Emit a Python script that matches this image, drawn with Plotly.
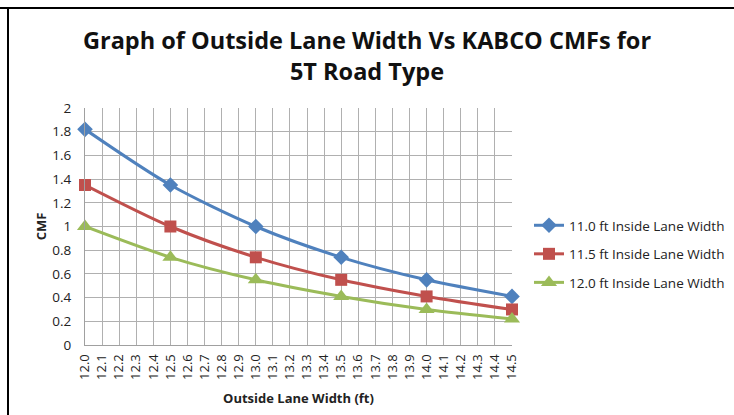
import plotly.graph_objects as go

x_vals = [12.0, 12.5, 13.0, 13.5, 14.0, 14.5]
cmf_110 = [1.82, 1.35, 1.00, 0.74, 0.55, 0.41]
cmf_115 = [1.35, 1.00, 0.74, 0.55, 0.41, 0.30]
cmf_120 = [1.00, 0.74, 0.55, 0.41, 0.30, 0.22]
series_names = ["11.0 ft Inside Lane Width", "11.5 ft Inside Lane Width", "12.0 ft Inside Lane Width"]
x_ticks = [round(12.0 + 0.1 * i, 1) for i in range(26)]
y_ticks = [0, 0.2, 0.4, 0.6, 0.8, 1, 1.2, 1.4, 1.6, 1.8, 2]

FONT = "Open Sans"
colors = ["#4F81BD", "#C0504D", "#9BBB59"]
symbols = ["diamond", "square", "triangle-up"]
sizes = [12, 12, 14]

fig = go.Figure()
for i, (ys, name) in enumerate(zip([cmf_110, cmf_115, cmf_120], series_names)):
    fig.add_trace(go.Scatter(
        x=x_vals, y=ys, name=name, mode="lines+markers",
        line=dict(color=colors[i], width=3, shape="spline", smoothing=0.8),
        marker=dict(symbol=symbols[i], size=sizes[i], color=colors[i]),
        cliponaxis=False, legendgroup=f"g{i}",
    ))

W, H = 734, 415
L, R, T, B = 85, 222, 108, 70
pw, ph = W - L - R, H - T - B

def px_x(p):
    return (p - L) / pw

def px_y(p):
    return (H - B - p) / ph

fig.update_layout(
    width=W, height=H,
    margin=dict(l=L, r=R, t=T, b=B, autoexpand=False),
    paper_bgcolor="white", plot_bgcolor="white",
    font=dict(family=FONT, color="#222"),
    title=dict(
        text="<b>Graph of Outside Lane Width Vs KABCO CMFs for<br>5T Road Type</b>",
        x=0.5, xanchor="center", y=1 - 49 / H, yanchor="middle",
        font=dict(size=23.5, family=FONT, color="#111"),
    ),
    xaxis=dict(
        range=[12.0, 14.5], tickmode="array", tickvals=x_ticks, tickformat=".1f",
        tickangle=-90, tickfont=dict(size=13), showgrid=True, gridcolor="#b0b0b0",
        gridwidth=1, showline=True, linecolor="#a0a0a0", zeroline=False,
        ticks="", ticklabelstandoff=3, automargin=False,
        title=dict(text="<b>Outside Lane Width (ft)</b>", font=dict(size=13), standoff=14),
    ),
    yaxis=dict(
        range=[0, 2], tickmode="array", tickvals=y_ticks, tickfont=dict(size=13.5),
        showgrid=True, gridcolor="#b0b0b0", gridwidth=1, showline=True,
        linecolor="#a0a0a0", zeroline=False, ticks="", ticklabelstandoff=10,
        automargin=False,
        title=dict(text="<b>CMF</b>", font=dict(size=13), standoff=2),
    ),
    legend=dict(
        x=px_x(529), y=px_y(210), xanchor="left", yanchor="top",
        font=dict(size=13.5, family=FONT), traceorder="grouped", tracegroupgap=8,
        bgcolor="rgba(0,0,0,0)",
    ),
    shapes=[
        dict(type="line", xref="paper", yref="paper", x0=px_x(0), x1=px_x(W), y0=px_y(8), y1=px_y(8),
             line=dict(color="black", width=2)),
        dict(type="line", xref="paper", yref="paper", x0=px_x(8), x1=px_x(8), y0=px_y(8), y1=px_y(H),
             line=dict(color="black", width=2)),
    ],
)

fig.write_html("out.html", config={"displayModeBar": False},
               post_script="document.body.style.margin='0';")
